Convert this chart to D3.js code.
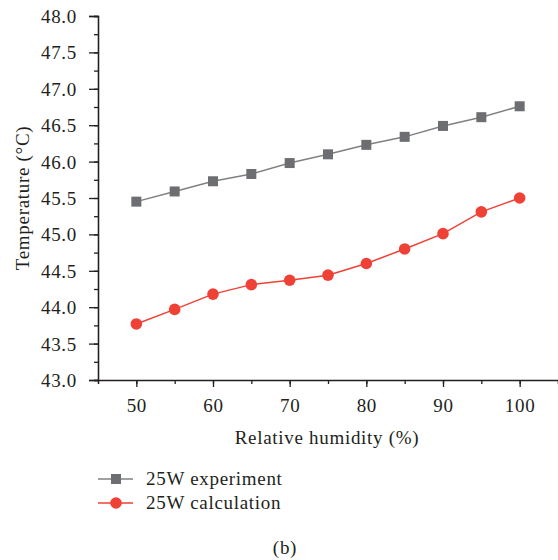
<!DOCTYPE html>
<html><head><meta charset="utf-8">
<script src="https://cdn.jsdelivr.net/npm/d3@7"></script>
<style>body{margin:0;background:#fff}svg{display:block}text{font-family:"Liberation Serif","Times New Roman",serif !important;fill:#231f20;letter-spacing:0.7px}</style>
</head><body><svg id="c" width="558" height="560"></svg>
<script>
const humidity = [50,55,60,65,70,75,80,85,90,95,100];
const experiment = [45.45,45.59,45.73,45.83,45.98,46.10,46.23,46.34,46.49,46.61,46.76];
const calculation = [43.77,43.97,44.18,44.31,44.37,44.44,44.60,44.80,45.01,45.31,45.50];
const seriesNames = ["25W experiment","25W calculation"];
const xTicks = [50,60,70,80,90,100];
const yTicks = [43.0,43.5,44.0,44.5,45.0,45.5,46.0,46.5,47.0,47.5,48.0];

const FS = "19px";
const svg = d3.select("#c");
const x = d3.scaleLinear().domain([45,105]).range([98,558]);
const y = d3.scaleLinear().domain([43,48]).range([380,16]);
const axisColor = "#231f20";

// y axis
const gy = svg.append("g").attr("transform","translate(98,0)");
gy.call(d3.axisLeft(y).tickValues(d3.range(43,48.01,0.25)).tickSize(4).tickFormat(""));
gy.selectAll("line,path").attr("stroke",axisColor).attr("stroke-width",1.3);
const gy2 = svg.append("g").attr("transform","translate(98,0)");
gy2.call(d3.axisLeft(y).tickValues(yTicks).tickSize(9).tickPadding(12).tickFormat(d3.format(".1f")));
gy2.attr("font-family",null);
gy2.selectAll("text").style("font-size",FS).attr("fill","#231f20").attr("dy","0.34em");
gy2.selectAll("line,path").attr("stroke",axisColor).attr("stroke-width",1.3);

// x axis
const gx = svg.append("g").attr("transform","translate(0,380)");
gx.call(d3.axisBottom(x).tickValues(d3.range(45,106,5)).tickSize(4).tickFormat(""));
gx.selectAll("line,path").attr("stroke",axisColor).attr("stroke-width",1.3);
const gx2 = svg.append("g").attr("transform","translate(0,380)");
gx2.call(d3.axisBottom(x).tickValues(xTicks).tickSize(7).tickPadding(12).tickFormat(d3.format("d")));
gx2.attr("font-family",null);
gx2.select(".domain").remove();
gx2.selectAll("line").attr("stroke",axisColor).attr("stroke-width",1.3);
gx2.selectAll("text").style("font-size",FS).attr("fill","#231f20");

// axis titles
svg.append("text").attr("x",327).attr("y",444).attr("text-anchor","middle").style("font-size",FS).text("Relative humidity (%)");
svg.append("text").attr("transform","translate(29,198) rotate(-90)").attr("text-anchor","middle").style("font-size",FS).text("Temperature (°C)");

const pts1 = humidity.map((h,i)=>[h,experiment[i]]);
const pts2 = humidity.map((h,i)=>[h,calculation[i]]);
const line = d3.line().x(d=>x(d[0])).y(d=>y(d[1]));
const gray="#808080", grayM="#6d6e71", red="#ef4136";

svg.append("path").attr("d",line(pts1)).attr("fill","none").attr("stroke",gray).attr("stroke-width",1.5);
svg.selectAll(".sq").data(pts1).join("rect").attr("x",d=>x(d[0])-5).attr("y",d=>y(d[1])-5).attr("width",10).attr("height",10).attr("fill",grayM);
svg.append("path").attr("d",line(pts2)).attr("fill","none").attr("stroke",red).attr("stroke-width",1.5);
svg.selectAll(".ci").data(pts2).join("circle").attr("cx",d=>x(d[0])).attr("cy",d=>y(d[1])).attr("r",5.8).attr("fill",red);

// legend
const lg = svg.append("g");
[[seriesNames[0],gray,grayM,"sq",479],[seriesNames[1],red,red,"ci",503]].forEach(([name,lc,mc,shape,yy])=>{
  lg.append("line").attr("x1",98).attr("x2",133).attr("y1",yy).attr("y2",yy).attr("stroke",lc).attr("stroke-width",1.5);
  if(shape==="sq") lg.append("rect").attr("x",111).attr("y",yy-5).attr("width",10).attr("height",10).attr("fill",mc);
  else lg.append("circle").attr("cx",116).attr("cy",yy).attr("r",5.8).attr("fill",mc);
  lg.append("text").attr("x",146).attr("y",yy+6).style("font-size",FS).text(name);
});
svg.append("text").attr("x",285).attr("y",554).attr("text-anchor","middle").style("font-size",FS).text("(b)");
</script></body></html>
